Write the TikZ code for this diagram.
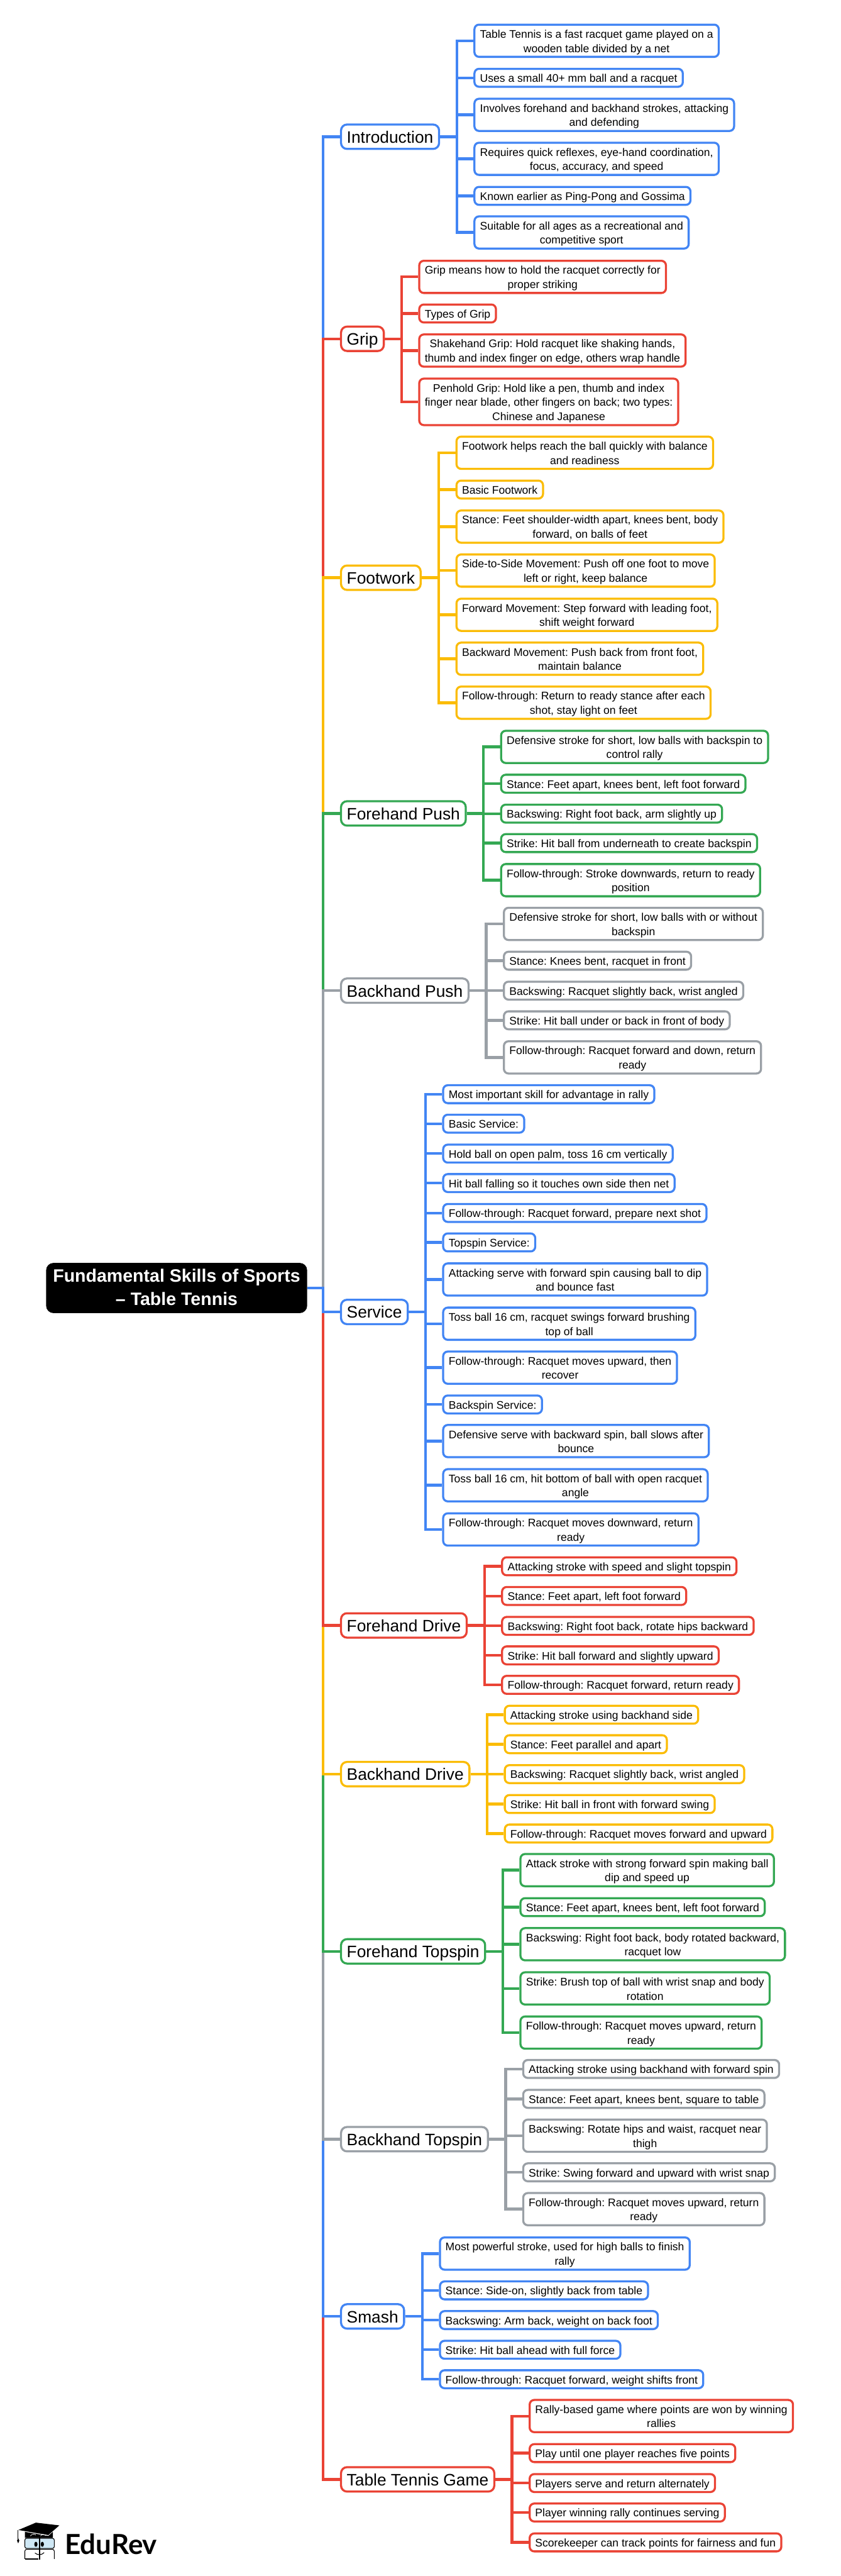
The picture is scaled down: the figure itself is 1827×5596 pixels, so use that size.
\documentclass[tikz,border=0pt]{standalone}
\usepackage{fontspec}
\setmainfont{Liberation Sans}
\newfontfamily\logofont{Lato}
\frenchspacing
\definecolor{gBlue}{HTML}{4285F4}
\definecolor{gRed}{HTML}{EA4335}
\definecolor{gAmber}{HTML}{FBBC05}
\definecolor{gGreen}{HTML}{34A853}
\definecolor{gGray}{HTML}{9AA0A6}
\definecolor{lensBlue}{HTML}{CFE8F5}
\begin{document}
\begin{tikzpicture}[
        x=1pt, y=-1pt,
        rootNode/.style={rounded corners=16pt, fill=black, text=white, anchor=west, align=center, inner xsep=15pt, inner ysep=3.5pt, text height=89pt, text depth=13pt, font=\bfseries\fontsize{39}{51}\selectfont},
        branchNode/.style={rounded corners=13pt, draw=#1, fill=white, line width=4.5pt, anchor=west, inner xsep=12.5pt, inner ysep=3.5pt, text height=36.5pt, text depth=9.5pt, font=\fontsize{36}{46}\selectfont},
        leafNode/.style={rounded corners=10pt, draw=#1, fill=white, line width=4.5pt, anchor=west, align=center, inner xsep=12pt, inner ysep=4pt, text height=25pt, text depth=6pt, font=\fontsize{24}{31}\selectfont},
        twoLines/.style={text height=56pt},
        threeLines/.style={text height=87pt},
        edgeLine/.style={draw=#1, line width=6pt}
    ]
        \useasboundingbox (0,0) rectangle (1827,5596);

        % Root node
        \node[rootNode] (root) at (100,2798) {Fundamental Skills of Sports\\– Table Tennis};

        % Branches
        \node[branchNode=gBlue] (intro) at (739,297) {Introduction};
        \node[branchNode=gRed] (grip) at (739,736) {Grip};
        \node[branchNode=gAmber] (foot) at (739,1255) {Footwork};
        \node[branchNode=gGreen] (fpush) at (739,1767) {Forehand Push};
        \node[branchNode=gGray] (bpush) at (739,2152) {Backhand Push};
        \node[branchNode=gBlue] (serve) at (739,2850) {Service};
        \node[branchNode=gRed] (fdrive) at (739,3531) {Forehand Drive};
        \node[branchNode=gAmber] (bdrive) at (739,3854) {Backhand Drive};
        \node[branchNode=gGreen] (ftop) at (739,4239) {Forehand Topspin};
        \node[branchNode=gGray] (btop) at (739,4647) {Backhand Topspin};
        \node[branchNode=gBlue] (smash) at (739,5032) {Smash};
        \node[branchNode=gRed] (game) at (739,5386) {Table Tennis Game};

        % Introduction
        \node[leafNode=gBlue, twoLines] (intro1) at (1029,88.5) {Table Tennis is a fast racquet game played on a\\wooden table divided by a net};
        \node[leafNode=gBlue] (intro2) at (1029,169) {Uses a small 40+ mm ball and a racquet};
        \node[leafNode=gBlue, twoLines] (intro3) at (1029,249.5) {Involves forehand and backhand strokes, attacking\\and defending};
        \node[leafNode=gBlue, twoLines] (intro4) at (1029,345) {Requires quick reflexes, eye-hand coordination,\\focus, accuracy, and speed};
        \node[leafNode=gBlue] (intro5) at (1029,425.5) {Known earlier as Ping-Pong and Gossima};
        \node[leafNode=gBlue, twoLines] (intro6) at (1029,505) {Suitable for all ages as a recreational and\\competitive sport};

        % Grip
        \node[leafNode=gRed, twoLines] (grip1) at (909,601.5) {Grip means how to hold the racquet correctly for\\proper striking};
        \node[leafNode=gRed] (grip2) at (909,681) {Types of Grip};
        \node[leafNode=gRed, twoLines] (grip3) at (909,761.5) {Shakehand Grip: Hold racquet like shaking hands,\\thumb and index finger on edge, others wrap handle};
        \node[leafNode=gRed, threeLines] (grip4) at (909,873) {Penhold Grip: Hold like a pen, thumb and index\\finger near blade, other fingers on back; two types:\\Chinese and Japanese};

        % Footwork
        \node[leafNode=gAmber, twoLines] (foot1) at (990,983.5) {Footwork helps reach the ball quickly with balance\\and readiness};
        \node[leafNode=gAmber] (foot2) at (990,1063.5) {Basic Footwork};
        \node[leafNode=gAmber, twoLines] (foot3) at (990,1144) {Stance: Feet shoulder-width apart, knees bent, body\\forward, on balls of feet};
        \node[leafNode=gAmber, twoLines] (foot4) at (990,1239.5) {Side-to-Side Movement: Push off one foot to move\\left or right, keep balance};
        \node[leafNode=gAmber, twoLines] (foot5) at (990,1335.5) {Forward Movement: Step forward with leading foot,\\shift weight forward};
        \node[leafNode=gAmber, twoLines] (foot6) at (990,1431) {Backward Movement: Push back from front foot,\\maintain balance};
        \node[leafNode=gAmber, twoLines] (foot7) at (990,1526.5) {Follow-through: Return to ready stance after each\\shot, stay light on feet};

        % Forehand Push
        \node[leafNode=gGreen, twoLines] (fpush1) at (1087,1622.5) {Defensive stroke for short, low balls with backspin to\\control rally};
        \node[leafNode=gGreen] (fpush2) at (1087,1702.5) {Stance: Feet apart, knees bent, left foot forward};
        \node[leafNode=gGreen] (fpush3) at (1087,1767.5) {Backswing: Right foot back, arm slightly up};
        \node[leafNode=gGreen] (fpush4) at (1087,1831.5) {Strike: Hit ball from underneath to create backspin};
        \node[leafNode=gGreen, twoLines] (fpush5) at (1087,1912) {Follow-through: Stroke downwards, return to ready\\position};

        % Backhand Push
        \node[leafNode=gGray, twoLines] (bpush1) at (1093,2007) {Defensive stroke for short, low balls with or without\\backspin};
        \node[leafNode=gGray] (bpush2) at (1093,2087) {Stance: Knees bent, racquet in front};
        \node[leafNode=gGray] (bpush3) at (1093,2152) {Backswing: Racquet slightly back, wrist angled};
        \node[leafNode=gGray] (bpush4) at (1093,2216.5) {Strike: Hit ball under or back in front of body};
        \node[leafNode=gGray, twoLines] (bpush5) at (1093,2297) {Follow-through: Racquet forward and down, return\\ready};

        % Service
        \node[leafNode=gBlue] (serve1) at (961,2377) {Most important skill for advantage in rally};
        \node[leafNode=gBlue] (serve2) at (961,2441) {Basic Service:};
        \node[leafNode=gBlue] (serve3) at (961,2506) {Hold ball on open palm, toss 16 cm vertically};
        \node[leafNode=gBlue] (serve4) at (961,2570) {Hit ball falling so it touches own side then net};
        \node[leafNode=gBlue] (serve5) at (961,2635) {Follow-through: Racquet forward, prepare next shot};
        \node[leafNode=gBlue] (serve6) at (961,2699) {Topspin Service:};
        \node[leafNode=gBlue, twoLines] (serve7) at (961,2779.5) {Attacking serve with forward spin causing ball to dip\\and bounce fast};
        \node[leafNode=gBlue, twoLines] (serve8) at (961,2875.5) {Toss ball 16 cm, racquet swings forward brushing\\top of ball};
        \node[leafNode=gBlue, twoLines] (serve9) at (961,2971) {Follow-through: Racquet moves upward, then\\recover};
        \node[leafNode=gBlue] (serve10) at (961,3051) {Backspin Service:};
        \node[leafNode=gBlue, twoLines] (serve11) at (961,3130.5) {Defensive serve with backward spin, ball slows after\\bounce};
        \node[leafNode=gBlue, twoLines] (serve12) at (961,3226.5) {Toss ball 16 cm, hit bottom of ball with open racquet\\angle};
        \node[leafNode=gBlue, twoLines] (serve13) at (961,3322.5) {Follow-through: Racquet moves downward, return\\ready};

        % Forehand Drive
        \node[leafNode=gRed] (fdrive1) at (1089,3402.5) {Attacking stroke with speed and slight topspin};
        \node[leafNode=gRed] (fdrive2) at (1089,3467) {Stance: Feet apart, left foot forward};
        \node[leafNode=gRed] (fdrive3) at (1089,3532) {Backswing: Right foot back, rotate hips backward};
        \node[leafNode=gRed] (fdrive4) at (1089,3596) {Strike: Hit ball forward and slightly upward};
        \node[leafNode=gRed] (fdrive5) at (1089,3660) {Follow-through: Racquet forward, return ready};

        % Backhand Drive
        \node[leafNode=gAmber] (bdrive1) at (1095,3725) {Attacking stroke using backhand side};
        \node[leafNode=gAmber] (bdrive2) at (1095,3789) {Stance: Feet parallel and apart};
        \node[leafNode=gAmber] (bdrive3) at (1095,3854) {Backswing: Racquet slightly back, wrist angled};
        \node[leafNode=gAmber] (bdrive4) at (1095,3919) {Strike: Hit ball in front with forward swing};
        \node[leafNode=gAmber] (bdrive5) at (1095,3983) {Follow-through: Racquet moves forward and upward};

        % Forehand Topspin
        \node[leafNode=gGreen, twoLines] (ftop1) at (1129,4062.5) {Attack stroke with strong forward spin making ball\\dip and speed up};
        \node[leafNode=gGreen] (ftop2) at (1129,4143) {Stance: Feet apart, knees bent, left foot forward};
        \node[leafNode=gGreen, twoLines] (ftop3) at (1129,4223.5) {Backswing: Right foot back, body rotated backward,\\racquet low};
        \node[leafNode=gGreen, twoLines] (ftop4) at (1129,4319.5) {Strike: Brush top of ball with wrist snap and body\\rotation};
        \node[leafNode=gGreen, twoLines] (ftop5) at (1129,4415.5) {Follow-through: Racquet moves upward, return\\ready};

        % Backhand Topspin
        \node[leafNode=gGray] (btop1) at (1135,4494.5) {Attacking stroke using backhand with forward spin};
        \node[leafNode=gGray] (btop2) at (1135,4559.5) {Stance: Feet apart, knees bent, square to table};
        \node[leafNode=gGray, twoLines] (btop3) at (1135,4639.5) {Backswing: Rotate hips and waist, racquet near\\thigh};
        \node[leafNode=gGray] (btop4) at (1135,4719) {Strike: Swing forward and upward with wrist snap};
        \node[leafNode=gGray, twoLines] (btop5) at (1135,4799) {Follow-through: Racquet moves upward, return\\ready};

        % Smash
        \node[leafNode=gBlue, twoLines] (smash1) at (954,4895.5) {Most powerful stroke, used for high balls to finish\\rally};
        \node[leafNode=gBlue] (smash2) at (954,4975.5) {Stance: Side-on, slightly back from table};
        \node[leafNode=gBlue] (smash3) at (954,5040) {Backswing: Arm back, weight on back foot};
        \node[leafNode=gBlue] (smash4) at (954,5104.5) {Strike: Hit ball ahead with full force};
        \node[leafNode=gBlue] (smash5) at (954,5168.5) {Follow-through: Racquet forward, weight shifts front};

        % Table Tennis Game
        \node[leafNode=gRed, twoLines] (game1) at (1149,5248.5) {Rally-based game where points are won by winning\\rallies};
        \node[leafNode=gRed] (game2) at (1149,5329) {Play until one player reaches five points};
        \node[leafNode=gRed] (game3) at (1149,5394) {Players serve and return alternately};
        \node[leafNode=gRed] (game4) at (1149,5458) {Player winning rally continues serving};
        \node[leafNode=gRed] (game5) at (1149,5523) {Scorekeeper can track points for fairness and fun};

        % Edges
        \coordinate (trunk) at (702.5,2798);
        \foreach \branch/\col/\num in {intro/gBlue/6, grip/gRed/4, foot/gAmber/7, fpush/gGreen/5, bpush/gGray/5, game/gRed/5, smash/gBlue/5, btop/gGray/5, ftop/gGreen/5, bdrive/gAmber/5, fdrive/gRed/5, serve/gBlue/13} {
            \draw[edgeLine=\col] (root.east) -- (trunk) |- (\branch.west);
            \foreach \i in {1,...,\num} {
                \draw[edgeLine=\col] (\branch.east) -- ([xshift=-36pt]\branch\i.west |- \branch.east) |- (\branch\i.west);
            }
        }

        % Logo
        \node[anchor=west, inner sep=0pt, font=\logofont\bfseries\fontsize{60}{60}\selectfont] (logoText) at (141,5527) {EduRev};
        \fill (40,5496) -- (78,5480) -- (129,5486) -- (105,5507) -- cycle;
        \fill (54,5500) -- (105,5509) -- (115,5500) -- (115,5513) -- (54,5513) -- cycle;
        \draw[line width=1.2pt] (39.5,5496) -- (39.5,5516);
        \fill (39.5,5514) -- (42,5519) -- (39.5,5525) -- (37,5519) -- cycle;
        \draw[white, line width=1pt] (66,5509) .. controls (70,5504) and (74,5504) .. (78,5507);
        \draw[white, line width=1pt] (88,5509) .. controls (91,5505) and (96,5505) .. (100,5508);
        \draw[line width=1.5pt, fill=lensBlue, rounded corners=4pt] (54,5514) rectangle (118,5536);
        \draw[line width=1.5pt, rounded corners=4pt] (54,5559) -- (54,5538) -- (118,5538) -- (118,5559);
        \draw[line width=1.5pt] (54,5559) -- (84,5559);
        \draw[line width=2pt] (86,5512) -- (86,5560);
        \fill (78,5527) ellipse (3.5 and 5.5);
        \fill (92,5527) ellipse (3.5 and 5.5);
        \draw[line width=1.5pt] (76,5546) .. controls (82,5551) and (90,5551) .. (96,5545);
    \end{tikzpicture}
\end{document}
